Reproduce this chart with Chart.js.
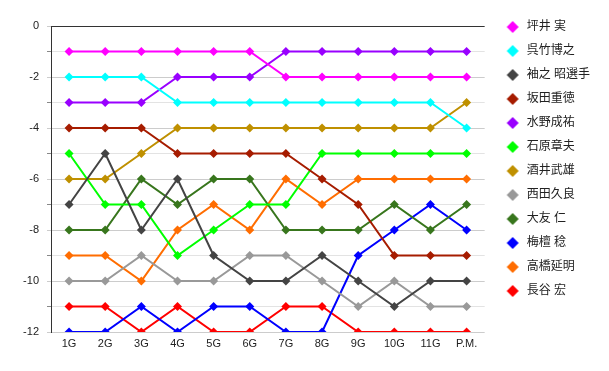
<!DOCTYPE html>
<html>
<head>
<meta charset="utf-8">
<script src="https://cdn.jsdelivr.net/npm/chart.js@4/dist/chart.umd.min.js"></script>
<style>
  html, body { margin: 0; padding: 0; background: #fff; }
  #wrap { width: 609px; height: 371px; }
</style>
</head>
<body>
<div id="wrap"><canvas id="rank-chart" width="609" height="371"></canvas></div>
<script>
// Rankings per round (negative = place, so 1st sits at the top)
const rounds = ['1G', '2G', '3G', '4G', '5G', '6G', '7G', '8G', '9G', '10G', '11G', 'P.M.'];

const names = ['坪井 実', '呉竹博之', '袖之 昭選手', '坂田重徳', '水野成祐', '石原章夫',
  '酒井武雄', '西田久良', '大友 仁', '梅檀 稔', '高橋延明', '長谷 宏'];

const colors = ['#ff00ff', '#00ffff', '#444444', '#a61c00', '#9900ff', '#00ff00',
  '#bf9000', '#999999', '#38761d', '#0000ff', '#ff6d01', '#ff0000'];

const tsuboi    = [-1, -1, -1, -1, -1, -1, -2, -2, -2, -2, -2, -2];
const kuretake  = [-2, -2, -2, -3, -3, -3, -3, -3, -3, -3, -3, -4];
const sodenoshi = [-7, -5, -8, -6, -9, -10, -10, -9, -10, -11, -10, -10];
const sakata    = [-4, -4, -4, -5, -5, -5, -5, -6, -7, -9, -9, -9];
const mizuno    = [-3, -3, -3, -2, -2, -2, -1, -1, -1, -1, -1, -1];
const ishihara  = [-5, -7, -7, -9, -8, -7, -7, -5, -5, -5, -5, -5];
const sakai     = [-6, -6, -5, -4, -4, -4, -4, -4, -4, -4, -4, -3];
const nishida   = [-10, -10, -9, -10, -10, -9, -9, -10, -11, -10, -11, -11];
const otomo     = [-8, -8, -6, -7, -6, -6, -8, -8, -8, -7, -8, -7];
const sendan    = [-12, -12, -11, -12, -11, -11, -12, -12, -9, -8, -7, -8];
const takahashi = [-9, -9, -10, -8, -7, -8, -6, -7, -6, -6, -6, -6];
const hase      = [-11, -11, -12, -11, -12, -12, -11, -11, -12, -12, -12, -12];

const series = [tsuboi, kuretake, sodenoshi, sakata, mizuno, ishihara,
  sakai, nishida, otomo, sendan, takahashi, hase];

Chart.defaults.font.family = '"Liberation Sans", Arial, "Noto Sans CJK JP", sans-serif';
Chart.defaults.font.size = 11;
Chart.defaults.color = '#222';

// legend marker: diamond drawn a bit right of the box centre
function diamondMark(color) {
  const c = document.createElement('canvas');
  c.width = 24; c.height = 14;
  const g = c.getContext('2d');
  g.fillStyle = color;
  g.beginPath();
  g.moveTo(16, 1); g.lineTo(22, 7); g.lineTo(16, 13); g.lineTo(10, 7);
  g.closePath();
  g.fill();
  return c;
}

const datasets = series.map((data, i) => ({
  label: names[i],
  data,
  borderColor: colors[i],
  backgroundColor: colors[i],
  borderWidth: 2,
  pointStyle: 'rectRot',
  pointRadius: 4.5,
  pointHoverRadius: 4.5,
  pointBorderWidth: 0,
  tension: 0,
  clip: 0
}));

new Chart(document.getElementById('rank-chart'), {
  type: 'line',
  data: { labels: rounds, datasets },
  options: {
    responsive: false,
    animation: false,
    layout: { padding: { top: 9, right: 9, bottom: 0, left: 0 } },
    plugins: {
      title: { display: true, text: ' ', padding: 0, font: { size: 14.17 } },
      tooltip: { enabled: false },
      legend: {
        position: 'right',
        align: 'start',
        labels: {
          usePointStyle: true,
          pointStyleWidth: 24,
          padding: 12,
          color: '#222',
          font: { size: 12 },
          generateLabels(chart) {
            const items = Chart.defaults.plugins.legend.labels.generateLabels(chart);
            items.forEach(it => { it.pointStyle = diamondMark(colors[it.datasetIndex]); });
            return items;
          }
        }
      }
    },
    scales: {
      x: {
        offset: true,
        grid: { display: false },
        border: { display: false },
        ticks: { padding: -3, maxRotation: 0 },
        afterFit(scale) { scale.height = 39; }
      },
      y: {
        min: -12,
        max: 0,
        grid: {
          tickLength: 4,
          color: ctx => ctx.tick.value === 0 ? '#333' : (ctx.tick.value % 2 === 0 ? '#cccccc' : '#e3e3e3'),
          tickColor: ctx => ctx.tick.value % 2 === 0 ? '#cccccc' : '#888'
        },
        border: { color: '#333' },
        ticks: {
          stepSize: 1,
          padding: 8,
          callback: v => (v % 2 === 0 ? String(v) : '')
        },
        afterFit(scale) { scale.width = 51; }
      }
    }
  }
});
</script>
</body>
</html>
